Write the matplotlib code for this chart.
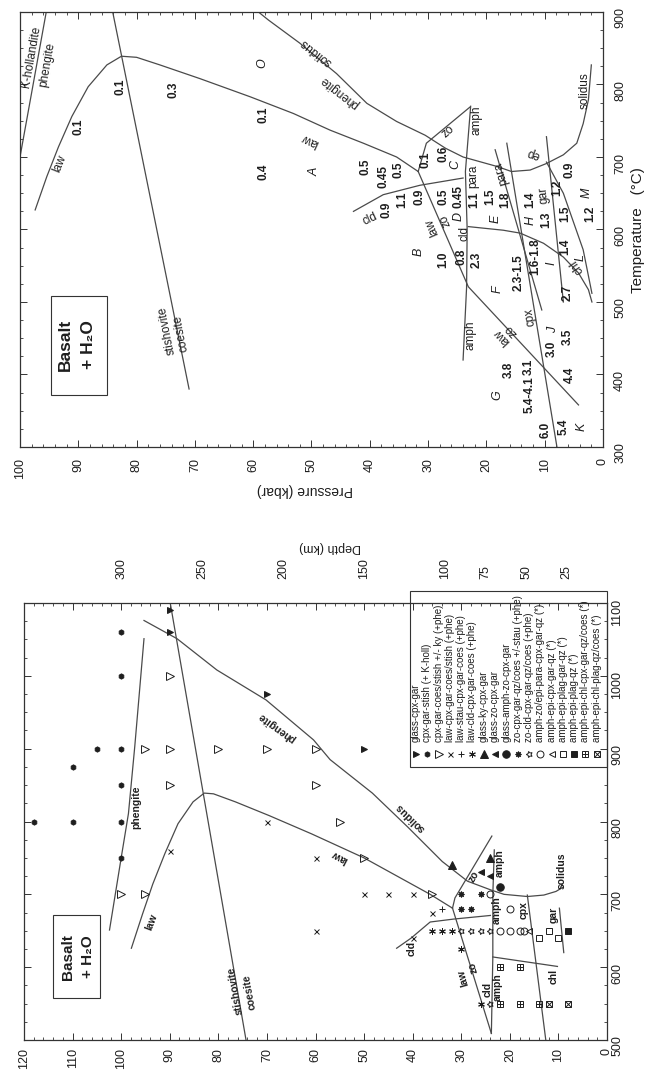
import matplotlib
matplotlib.use("Agg")
import matplotlib.pyplot as plt
from matplotlib.ticker import MultipleLocator, FixedLocator
from matplotlib.patches import Rectangle

plt.rcParams["font.family"] = ["Liberation Sans", "DejaVu Sans"]

W, H = 654, 1076
LINE_C = "#4a4a4a"
TXT_C = "#1e1e1e"

# ------------------------------------------------------------------
# Upper diagram: phase boundaries (T in degC, P in kbar)
# ------------------------------------------------------------------
up_khol_T = [900, 700]
up_khol_P = [95.5, 100.0]
up_stco_T = [900, 380]
up_stco_P = [84.1, 71.0]
up_law_T = [627, 673, 714, 756, 797, 827, 839, 837.5, 827, 808, 783, 760, 737, 719, 700, 680]
up_law_P = [97.4, 95.4, 93.4, 91.1, 88.3, 85.1, 82.6, 80.0, 76.0, 69.1, 60.5, 53.1, 46.8, 41.1, 35.4, 31.7]
up_sol_T = [900, 889, 857, 815, 774, 749, 730, 712, 700, 687, 680, 682, 691, 703, 719, 746, 779, 827]
up_sol_P = [59.1, 57.4, 52.0, 45.7, 40.5, 35.4, 30.5, 27.0, 24.0, 18.2, 15.7, 12.5, 9.7, 6.8, 4.5, 3.4, 2.5, 2.0]
up_zo_T = [680, 719, 769]
up_zo_P = [31.7, 30.3, 22.8]
up_lawzo_T = [680, 521, 358]
up_lawzo_P = [31.7, 23.1, 4.2]
up_cld_T = [625, 648, 661, 671]
up_cld_P = [42.8, 37.7, 31.4, 24.0]
up_amph_T = [420, 520, 600, 680, 770]
up_amph_P = [24.0, 23.4, 23.3, 23.6, 22.7]
up_chl_T = [604, 599, 595, 581, 562, 540, 517, 500]
up_chl_P = [23.1, 17.1, 14.2, 10.2, 6.8, 4.2, 2.5, 1.9]
up_cpx_T = [719, 300]
up_cpx_P = [16.5, 7.9]
up_para_T = [710, 489]
up_para_P = [18.5, 10.5]
up_gar_T = [728, 500]
up_gar_P = [9.7, 6.8]
up_m_T = [693, 650, 572, 512]
up_m_P = [9.7, 6.8, 3.4, 1.9]

up_lines = [
    (up_khol_T, up_khol_P), (up_stco_T, up_stco_P), (up_law_T, up_law_P),
    (up_sol_T, up_sol_P), (up_zo_T, up_zo_P), (up_lawzo_T, up_lawzo_P),
    (up_cld_T, up_cld_P), (up_amph_T, up_amph_P), (up_chl_T, up_chl_P),
    (up_cpx_T, up_cpx_P), (up_para_T, up_para_P), (up_gar_T, up_gar_P),
    (up_m_T, up_m_P),
]

# H2O contents of the assemblage fields (wt%)
up_num_text = ["0.1", "0.1", "0.3", "0.1", "0.4", "0.5", "0.45", "0.5", "0.9", "1.1",
               "0.9", "0.1", "0.6", "0.5", "0.45", "1.1", "1.0", "0.8", "2.3", "1.5",
               "1.8", "1.4", "1.3", "1.2", "0.9", "1.5", "1.2", "1.6-1.8", "1.4", "2.7",
               "2.3-1.5", "3.0", "3.5", "3.8", "3.1", "4.4", "5.4-4.1", "6.0", "5.4"]
up_num_T = [742, 797, 792, 758, 680, 687, 673, 682, 627, 641,
            645, 696, 705, 645, 646, 641, 558, 562, 558, 645,
            641, 641, 613, 657, 682, 622, 622, 562, 576, 512,
            540, 436, 452, 406, 411, 399, 372, 323, 328]
up_num_P = [90.0, 82.7, 73.7, 58.3, 58.3, 40.8, 37.7, 35.1, 37.1, 34.5,
            31.4, 30.5, 27.4, 27.4, 24.8, 22.0, 27.4, 24.2, 21.7, 19.4,
            16.8, 12.5, 9.7, 7.9, 5.7, 6.5, 2.2, 11.7, 6.5, 6.0,
            14.5, 8.8, 6.0, 16.2, 12.8, 5.7, 12.5, 9.9, 6.8]

# field letters
up_let_text = ["O", "A", "B", "C", "D", "E", "F", "G", "H", "I", "J", "K", "L", "M"]
up_let_T = [829, 680, 569, 689, 618, 615, 517, 372, 613, 553, 461, 328, 562, 650]
up_let_P = [58.5, 49.4, 31.7, 25.4, 24.8, 18.5, 18.0, 18.2, 12.5, 8.8, 8.5, 3.7, 3.9, 2.8]

# boundary names
up_lab_text = ["K-hollandite", "phengite", "law", "stishovite", "coesite", "solidus",
               "phengite", "law", "cld", "zo", "amph", "para", "zo", "law", "cld",
               "para", "gar", "ep", "chl", "cpx", "zo", "law", "amph", "solidus"]
up_lab_T = [838, 827, 691, 461, 457, 845, 790, 723, 615, 735, 751, 673, 613, 604, 595,
            677, 648, 705, 549, 480, 461, 452, 454, 792]
up_lab_P = [98.0, 95.4, 93.1, 74.8, 72.3, 49.1, 45.1, 50.3, 40.0, 26.5, 21.7, 22.2, 27.1,
            29.4, 23.7, 17.4, 10.2, 12.0, 4.5, 12.5, 15.7, 17.4, 22.8, 3.1]
up_lab_rot = [80, 80, 68, 101, 101, 142, 142, 155, 25, 42, 90, 90, 113, 113, 90,
              106, 95, 160, 124, 99, 133, 133, 90, 90]

# ------------------------------------------------------------------
# Lower diagram: phase boundaries
# ------------------------------------------------------------------
lo_stco_T = [1100, 500]
lo_stco_P = [89.9, 74.3]
lo_phen_T = [1051, 903, 811, 750, 651]
lo_phen_P = [95.3, 97.2, 98.5, 100.0, 102.4]
lo_law_T = [626, 673, 714, 756, 797, 827, 839, 838, 827, 808, 783, 750, 725, 700, 681]
lo_law_P = [97.9, 95.6, 93.5, 91.0, 88.3, 85.2, 82.9, 81.0, 76.5, 69.5, 60.8, 50.0, 43.2, 36.4, 31.8]
lo_sol_T = [1076, 1051, 1008, 967, 912, 885, 839, 793, 745, 718, 706, 700, 697, 699, 704, 710]
lo_sol_P = [95.3, 88.5, 80.3, 70.2, 60.4, 57.0, 48.3, 41.1, 33.9, 28.7, 23.9, 21.2, 16.4, 13.0, 10.5, 9.0]
lo_zo_T = [681, 695, 780]
lo_zo_P = [31.8, 31.3, 23.7]
lo_lawzo_T = [681, 509]
lo_lawzo_P = [31.8, 23.8]
lo_cld_T = [626, 640, 653, 662, 666, 670, 671]
lo_cld_P = [43.3, 40.3, 38.0, 36.4, 31.6, 25.5, 24.0]
lo_amph_T = [509, 614, 700, 761]
lo_amph_P = [23.8, 23.5, 23.5, 23.2]
lo_chl_T = [614, 601]
lo_chl_P = [23.5, 10.2]
lo_cpx_T = [699, 500]
lo_cpx_P = [16.4, 12.6]
lo_gar_T = [681, 620]
lo_gar_P = [9.8, 8.9]

lo_lines = [
    (lo_stco_T, lo_stco_P), (lo_phen_T, lo_phen_P), (lo_law_T, lo_law_P),
    (lo_sol_T, lo_sol_P), (lo_zo_T, lo_zo_P), (lo_lawzo_T, lo_lawzo_P),
    (lo_cld_T, lo_cld_P), (lo_amph_T, lo_amph_P), (lo_chl_T, lo_chl_P),
    (lo_cpx_T, lo_cpx_P), (lo_gar_T, lo_gar_P),
]

lo_lab_text = ["phengite", "law", "stishovite", "coesite", "phengite", "solidus", "law",
               "cld", "law", "zo", "cld", "amph", "amph", "amph", "zo", "cpx", "solidus",
               "gar", "chl"]
lo_lab_T = [820, 662, 568, 566, 930, 805, 752, 626, 585, 600, 569, 573, 679, 743, 724,
            679, 733, 672, 587]
lo_lab_P = [96.8, 93.7, 76.5, 73.6, 68.0, 40.5, 55.1, 40.3, 29.6, 27.5, 24.6, 22.4, 22.7,
            22.0, 27.5, 17.2, 9.3, 11.0, 11.0]
lo_lab_rot = [90, 69, 100, 100, 144, 136, 152, 90, 106, 106, 90, 90, 90, 90, 60,
              90, 90, 90, 90]

# ------------------------------------------------------------------
# Experimental run products (lower diagram)
# ------------------------------------------------------------------
assemblages = [
    "glass-cpx-gar",
    "cpx-gar-stish (+ K-holl)",
    "cpx-gar-coes/stish +/- ky (+phe)",
    "law-cpx-gar-coes/stish (+phe)",
    "law-stau-cpx-gar-coes (+phe)",
    "law-cld-cpx-gar-coes (+phe)",
    "glass-ky-cpx-gar",
    "glass-zo-cpx-gar",
    "glass-amph-zo-cpx-gar",
    "zo-cpx-gar-qz/coes +/-stau (+phe)",
    "zo-cld-cpx-gar-qz/coes (+phe)",
    "amph-zo/epi-para-cpx-gar-qz (*)",
    "amph-epi-cpx-gar-qz (*)",
    "amph-epi-plag-gar-qz (*)",
    "amph-epi-plag-qz (*)",
    "amph-epi-chl-cpx-gar-qz/coes (*)",
    "amph-epi-chl-plag-qz/coes (*)",
]
run_T = [
    [1090, 1060, 975, 900],
    [1060, 1000, 900, 900, 875, 850, 800, 800, 800, 750],
    [1000, 900, 900, 900, 900, 900, 850, 850, 800, 750, 700, 700, 700],
    [760, 800, 750, 650, 700, 700, 700, 675, 640],
    [680],
    [650, 650, 650, 625, 550],
    [740, 750],
    [730, 725],
    [710],
    [700, 700, 680, 680],
    [650, 650, 650, 650, 550],
    [700, 680, 650, 650, 650, 650],
    [650],
    [640, 650, 640],
    [650],
    [600, 600, 550, 550, 550],
    [550, 550],
]
run_P = [
    [90, 90, 70, 50],
    [100, 100, 105, 100, 110, 100, 118, 110, 100, 100],
    [90, 95, 90, 80, 70, 60, 90, 60, 55, 50, 100, 95, 36],
    [90, 70, 60, 60, 50, 45, 40, 36, 40],
    [34],
    [36, 34, 32, 30, 26],
    [32, 24],
    [26, 24],
    [22],
    [30, 26, 30, 28],
    [30, 28, 26, 24, 24],
    [24, 20, 22, 20, 18, 17],
    [16],
    [14, 12, 10],
    [8],
    [22, 18, 22, 18, 14],
    [12, 8],
]
# symbol layers: (marker, filled, size)
symbols = [
    [(">", True, 5.0)],
    [("h", True, 3.8)],
    [(">", False, 5.2)],
    [("x", False, 3.6)],
    [("+", False, 4.2)],
    [((6, 2, 0), False, 4.8)],
    [("^", True, 5.2)],
    [("<", True, 4.0)],
    [("o", True, 5.4)],
    [((8, 1, 0), True, 4.4)],
    [((5, 1, 90), False, 4.6)],
    [("o", False, 5.0)],
    [("<", False, 4.8)],
    [("s", False, 4.6)],
    [("s", True, 4.6)],
    [("s", False, 4.2), ("+", False, 4.2)],
    [("s", False, 4.2), ("x", False, 4.2)],
]

depth_ticks = [25, 50, 75, 100, 150, 200, 250, 300]


def draw_symbol(ax, xs, ys, layers, **kw):
    for mk, filled, ms in layers:
        ax.plot(xs, ys, linestyle="none", marker=mk, markersize=ms,
                markerfacecolor=TXT_C if filled else "none",
                markeredgecolor=TXT_C, markeredgewidth=0.7, **kw)


def style_axes(ax, xpad, ypad):
    ax.xaxis.set_major_locator(MultipleLocator(10))
    ax.xaxis.set_minor_locator(MultipleLocator(2))
    ax.yaxis.set_major_locator(MultipleLocator(100))
    ax.yaxis.set_minor_locator(MultipleLocator(25))
    ax.tick_params(which="both", direction="in", top=True, bottom=True, left=True,
                   right=True, labelleft=False, labelright=True, labelbottom=True,
                   colors="#333333", labelcolor=TXT_C)
    ax.tick_params(which="major", length=5, width=0.7)
    ax.tick_params(which="minor", length=2.5, width=0.6)
    ax.tick_params(axis="x", labelrotation=90, pad=xpad, labelsize=9)
    ax.tick_params(axis="y", labelrotation=90, pad=ypad, labelsize=9)
    for s in ax.spines.values():
        s.set_linewidth(0.9)
        s.set_color("#333333")


fig = plt.figure(figsize=(W / 100, H / 100), dpi=100)
fig.patch.set_facecolor("white")

# ---------------------------- upper diagram ----------------------------
ax1 = fig.add_axes([20 / W, 1 - 447 / H, 583 / W, 435 / H])
ax1.set_xlim(100, 0)
ax1.set_ylim(300, 900)
style_axes(ax1, xpad=8, ypad=8)
for T, P in up_lines:
    ax1.plot(P, T, color=LINE_C, lw=0.9)

for s, T, P in zip(up_num_text, up_num_T, up_num_P):
    ax1.text(P, T, s, rotation=90, rotation_mode="anchor", ha="center", va="center",
             fontsize=8.5, fontweight="bold", color=TXT_C)
for s, T, P in zip(up_let_text, up_let_T, up_let_P):
    ax1.text(P, T, s, rotation=90, rotation_mode="anchor", ha="center", va="center",
             fontsize=9, fontstyle="italic", color=TXT_C)
for s, T, P, r in zip(up_lab_text, up_lab_T, up_lab_P, up_lab_rot):
    ax1.text(P, T, s, rotation=r, rotation_mode="anchor", ha="center", va="center",
             fontsize=8.5, color=TXT_C)

ax1.add_patch(Rectangle((0.053, 0.12), 0.097, 0.226, transform=ax1.transAxes,
                        fill=False, edgecolor="#333333", lw=0.8))
ax1.text(0.077, 0.2345, "Basalt", transform=ax1.transAxes, rotation=90,
         ha="center", va="center", fontsize=12.5, fontweight="bold", color=TXT_C)
ax1.text(0.117, 0.2345, "+ H\u2082O", transform=ax1.transAxes, rotation=90,
         ha="center", va="center", fontsize=12.5, fontweight="bold", color=TXT_C)

fig.text(305 / W, 1 - 490 / H, "Pressure (kbar)", rotation=180, ha="center",
         va="center", fontsize=10, color=TXT_C)
fig.text(638 / W, 1 - 230 / H, "Temperature   (\u00b0C)", rotation=90, ha="center",
         va="center", fontsize=11, color=TXT_C)

# ---------------------------- lower diagram ----------------------------
ax2 = fig.add_axes([24 / W, 1 - 1040 / H, 583 / W, 437 / H])
ax2.set_xlim(120, 0)
ax2.set_ylim(500, 1100)
style_axes(ax2, xpad=6, ypad=3)
for T, P in lo_lines:
    ax2.plot(P, T, color=LINE_C, lw=0.9)

for s, T, P, r in zip(lo_lab_text, lo_lab_T, lo_lab_P, lo_lab_rot):
    ax2.text(P, T, s, rotation=r, rotation_mode="anchor", ha="center", va="center",
             fontsize=7.5, fontweight="bold", color=TXT_C)

for T, P, lay in zip(run_T, run_P, symbols):
    draw_symbol(ax2, P, T, lay, clip_on=False)

ax2.add_patch(Rectangle((0.050, 0.095), 0.080, 0.191, transform=ax2.transAxes,
                        fill=False, edgecolor="#333333", lw=0.8))
ax2.text(0.0755, 0.19, "Basalt", transform=ax2.transAxes, rotation=90,
         ha="center", va="center", fontsize=11, fontweight="bold", color=TXT_C)
ax2.text(0.1098, 0.19, "+ H\u2082O", transform=ax2.transAxes, rotation=90,
         ha="center", va="center", fontsize=11, fontweight="bold", color=TXT_C)

# depth scale along the top edge (about 3 km per kbar)
sec = ax2.secondary_xaxis("top", functions=(lambda p: 3.0 * p, lambda d: d / 3.0))
sec.xaxis.set_major_locator(FixedLocator(depth_ticks))
sec.xaxis.set_minor_locator(FixedLocator([]))
sec.tick_params(axis="x", length=0, pad=17, labelrotation=90, labelsize=9,
                labelcolor=TXT_C)
sec.spines["top"].set_visible(False)
fig.text(330 / W, 1 - 547 / H, "Depth (km)", rotation=180, ha="center", va="center",
         fontsize=9, color=TXT_C)

# legend of run products, drawn with the same symbols
lx0, lx1, ly0, ly1 = 0.662, 1.0, 0.6254, 1.028
ax2.add_patch(Rectangle((lx0, ly0), lx1 - lx0, ly1 - ly0, transform=ax2.transAxes,
                        fill=False, edgecolor="#333333", lw=0.8, clip_on=False))
step = (0.9823 - 0.6724) / (len(assemblages) - 1)
for i, (name, lay) in enumerate(zip(assemblages, symbols)):
    x = 0.6724 + i * step
    draw_symbol(ax2, [x], [0.655], lay, transform=ax2.transAxes, clip_on=False)
    ax2.text(x, 0.683, name, transform=ax2.transAxes, rotation=90,
             rotation_mode="anchor", ha="left", va="center", fontsize=7,
             color=TXT_C)

fig.savefig("out.png", dpi=100, facecolor="white")
